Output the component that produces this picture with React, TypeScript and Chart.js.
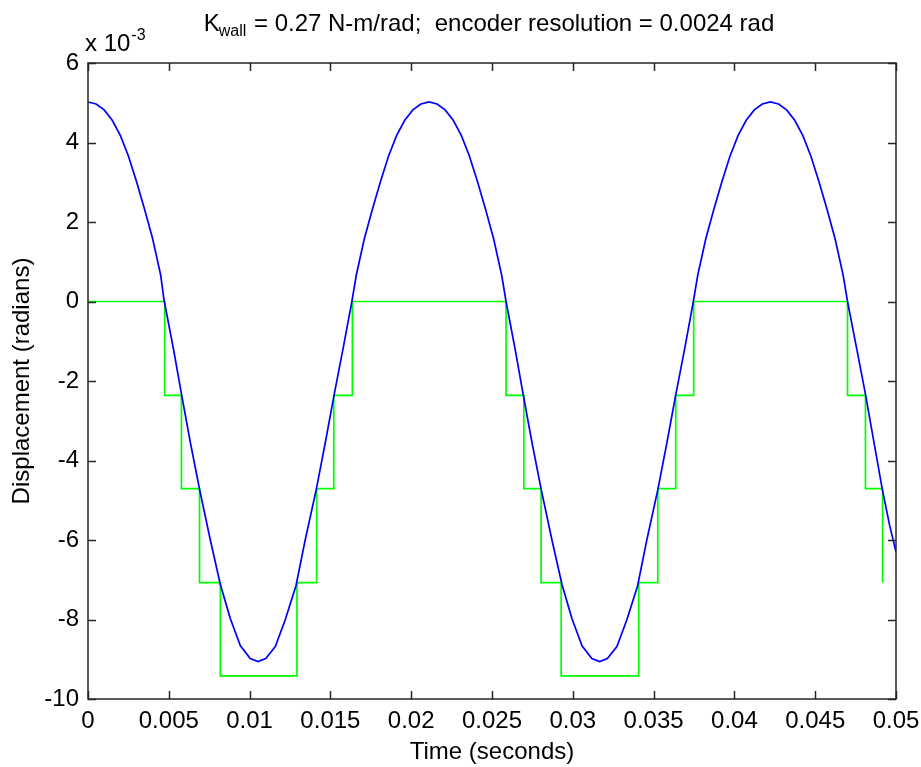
import React, { useEffect, useRef } from 'react';
import { Chart, registerables } from 'chart.js';

Chart.register(...registerables);

// Displacement (units of 1e-3 rad)
const blueTime = [
  0, 0.0005, 0.001, 0.0015, 0.002, 0.0025, 0.003, 0.0035, 0.004, 0.0045, 0.0047,
  0.0053, 0.00578, 0.00634, 0.00691, 0.00757, 0.00819, 0.00881, 0.00943, 0.01004, 0.01052, 0.011,
  0.01159, 0.01221, 0.01287, 0.01344, 0.01412, 0.01468, 0.01523, 0.01581, 0.01633,
  0.0166, 0.0171, 0.0176, 0.0181, 0.0186, 0.0191, 0.0196, 0.0201, 0.0206, 0.0211,
  0.0216, 0.0221, 0.0226, 0.0231, 0.0236, 0.0241, 0.0246, 0.0251, 0.0256, 0.02587,
  0.02644, 0.02692, 0.02748, 0.02805, 0.02871, 0.02933, 0.02995, 0.03057, 0.03118, 0.03166, 0.03214,
  0.03273, 0.03335, 0.03401, 0.03458, 0.03526, 0.03582, 0.03637, 0.03695, 0.03746,
  0.03773, 0.03823, 0.03873, 0.03923, 0.03973, 0.04023, 0.04073, 0.04123, 0.04173, 0.04223,
  0.04273, 0.04323, 0.04373, 0.04423, 0.04473, 0.04523, 0.04573, 0.04623, 0.04673, 0.047,
  0.04754, 0.04811, 0.04867, 0.04915, 0.0496, 0.05,
];
const blueValue = [
  5.02, 4.97, 4.82, 4.56, 4.18, 3.66, 3.02, 2.32, 1.58, 0.66, 0.05,
  -1.22, -2.32, -3.56, -4.74, -6.0, -7.12, -7.98, -8.66, -8.98, -9.06, -8.98,
  -8.68, -8.0, -7.15, -6.0, -4.74, -3.56, -2.35, -1.13, 0.0,
  0.66, 1.58, 2.32, 3.02, 3.66, 4.18, 4.56, 4.82, 4.97, 5.02,
  4.97, 4.82, 4.56, 4.18, 3.66, 3.02, 2.32, 1.58, 0.66, 0.0,
  -1.22, -2.32, -3.56, -4.74, -6.0, -7.12, -7.98, -8.66, -8.98, -9.06, -8.98,
  -8.68, -8.0, -7.15, -6.0, -4.74, -3.56, -2.35, -1.13, 0.0,
  0.66, 1.58, 2.32, 3.02, 3.66, 4.18, 4.56, 4.82, 4.97, 5.02,
  4.97, 4.82, 4.56, 4.18, 3.66, 3.02, 2.32, 1.58, 0.66, 0.0,
  -1.13, -2.33, -3.62, -4.72, -5.62, -6.3,
];

// Encoder reading (units of 1e-3 rad), value changes at each time
const greenTime = [
  0, 0.00475, 0.00578, 0.0069, 0.00819, 0.01293, 0.01415, 0.01521, 0.01636,
  0.02587, 0.02697, 0.02804, 0.02928, 0.03408, 0.03526, 0.03637, 0.03748,
  0.047, 0.04811, 0.04917,
];
const greenValue = [
  0, -2.36, -4.71, -7.07, -9.42, -7.07, -4.71, -2.36, 0,
  -2.36, -4.71, -7.07, -9.42, -7.07, -4.71, -2.36, 0,
  -2.36, -4.71, -7.07,
];

const xTickValues = [0, 0.005, 0.01, 0.015, 0.02, 0.025, 0.03, 0.035, 0.04, 0.045, 0.05];
const xTickLabels = ['0', '0.005', '0.01', '0.015', '0.02', '0.025', '0.03', '0.035', '0.04', '0.045', '0.05'];
const yTickValues = [-10, -8, -6, -4, -2, 0, 2, 4, 6];
const yTickLabels = ['-10', '-8', '-6', '-4', '-2', '0', '2', '4', '6'];

const titleK = 'K';
const titleSub = 'wall';
const titleRest = ' = 0.27 N-m/rad;  encoder resolution = 0.0024 rad';
const expBase = 'x 10';
const expPower = '-3';
const xTitle = 'Time (seconds)';
const yTitle = 'Displacement (radians)';

const FONT = '"Liberation Sans", Arial, Helvetica, sans-serif';
const TEXT = '#000000';
const AXIS = '#262626';
const FS = 24;

const matlabAxes = {
  id: 'matlabAxes',
  afterDatasetsDraw(chart: any) {
    const { ctx, chartArea: a, scales } = chart;
    const xs = scales.x;
    const ys = scales.y;
    ctx.save();
    ctx.strokeStyle = AXIS;
    ctx.lineWidth = 1.5;
    ctx.beginPath();
    const tl = 8;
    xTickValues.forEach((v) => {
      const px = Math.round(xs.getPixelForValue(v)) + 0.5;
      ctx.moveTo(px, a.bottom);
      ctx.lineTo(px, a.bottom - tl);
      ctx.moveTo(px, a.top);
      ctx.lineTo(px, a.top + tl);
    });
    yTickValues.forEach((v) => {
      const py = Math.round(ys.getPixelForValue(v)) + 0.5;
      ctx.moveTo(a.left, py);
      ctx.lineTo(a.left + tl, py);
      ctx.moveTo(a.right, py);
      ctx.lineTo(a.right - tl, py);
    });
    ctx.stroke();
    ctx.strokeRect(a.left, a.top, a.right - a.left, a.bottom - a.top);
    ctx.restore();
  },
  afterDraw(chart: any) {
    const { ctx, chartArea: a } = chart;
    ctx.save();
    ctx.fillStyle = TEXT;
    ctx.textBaseline = 'alphabetic';
    ctx.textAlign = 'left';
    const big = `${FS}px ${FONT}`;
    const small = `16px ${FONT}`;
    ctx.font = big;
    const wK = ctx.measureText(titleK).width;
    const wR = ctx.measureText(titleRest).width;
    ctx.font = small;
    const wS = ctx.measureText(titleSub).width;
    const total = wK + wS + wR;
    const cx = (a.left + a.right) / 2;
    let x = cx - total / 2 - 3;
    const baseY = 31;
    ctx.font = big;
    ctx.fillText(titleK, x, baseY);
    x += wK;
    ctx.font = small;
    ctx.fillText(titleSub, x - 1, baseY + 5);
    x += wS;
    ctx.font = big;
    ctx.fillText(titleRest, x, baseY);
    // exponent
    ctx.font = big;
    const ex = a.left - 3;
    ctx.fillText(expBase, ex, 51);
    const wb = ctx.measureText(expBase).width;
    ctx.font = small;
    ctx.fillText(expPower, ex + wb + 1, 40);
    ctx.restore();
  },
};

export default function App() {
  const ref = useRef<HTMLCanvasElement | null>(null);
  useEffect(() => {
    if (!ref.current) return;
    const chart = new Chart(ref.current, {
      type: 'line',
      data: {
        datasets: [
          {
            label: 'displacement',
            data: blueTime.map((t, i) => ({ x: t, y: blueValue[i] })),
            borderColor: '#0000ff',
            borderWidth: 1.7,
            pointRadius: 0,
            tension: 0,
            fill: false,
          },
          {
            label: 'encoder',
            data: greenTime.map((t, i) => ({ x: t, y: greenValue[i] })),
            borderColor: '#00ff00',
            borderWidth: 1.7,
            pointRadius: 0,
            stepped: 'before',
            fill: false,
          },
        ],
      },
      options: {
        animation: false,
        responsive: false,
        devicePixelRatio: 1,
        layout: { padding: { top: 63, right: 25, left: 0, bottom: 0 } },
        plugins: {
          legend: { display: false },
          tooltip: { enabled: false },
          title: { display: false },
        },
        scales: {
          x: {
            type: 'linear',
            min: 0,
            max: 0.05,
            afterFit: (s: any) => {
              s.height = 68;
              s.paddingLeft = 0;
              s.paddingRight = 0;
            },
            afterBuildTicks: (s: any) => {
              s.ticks = xTickValues.map((v) => ({ value: v }));
            },
            grid: { display: false, drawTicks: false },
            border: { display: false },
            ticks: {
              autoSkip: false,
              maxRotation: 0,
              padding: 8,
              color: TEXT,
              font: { family: FONT, size: FS },
              callback: (_v: any, i: number) => xTickLabels[i],
            },
            title: {
              display: true,
              text: xTitle,
              color: TEXT,
              font: { family: FONT, size: FS, lineHeight: 1.2 },
              padding: { top: 0, bottom: 0 },
            },
          },
          y: {
            type: 'linear',
            min: -10,
            max: 6,
            afterFit: (s: any) => {
              s.width = 88;
              s.paddingTop = 0;
              s.paddingBottom = 0;
            },
            afterBuildTicks: (s: any) => {
              s.ticks = yTickValues.map((v) => ({ value: v }));
            },
            grid: { display: false, drawTicks: false },
            border: { display: false },
            ticks: {
              autoSkip: false,
              padding: 9,
              color: TEXT,
              font: { family: FONT, size: FS },
              callback: (_v: any, i: number) => yTickLabels[i],
            },
            title: {
              display: true,
              text: yTitle,
              color: TEXT,
              font: { family: FONT, size: FS, lineHeight: 1.2 },
              padding: { top: 8, bottom: 0 },
            },
          },
        },
      },
      plugins: [matlabAxes],
    });
    return () => chart.destroy();
  }, []);
  return (
    <div style={{ position: 'absolute', left: 0, top: 0, width: 921, height: 767, background: '#fff' }}>
      <canvas ref={ref} width={921} height={767} style={{ display: 'block' }} />
    </div>
  );
}
